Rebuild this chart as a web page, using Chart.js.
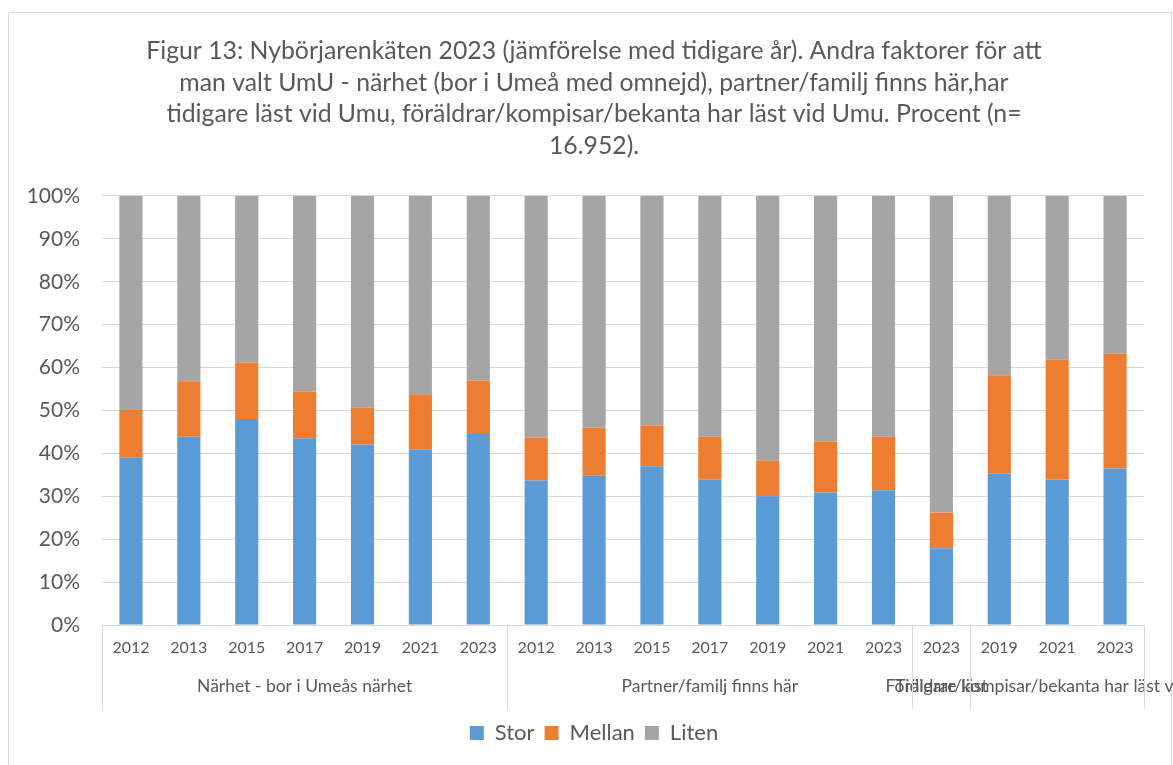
<!DOCTYPE html>
<html>
<head>
<meta charset="utf-8">
<script src="https://cdn.jsdelivr.net/npm/chart.js@4"></script>
<style>
  body { margin: 0; background: #fff; }
  canvas { display: block; }
</style>
</head>
<body>
<canvas id="chart" width="1173" height="765"></canvas>
<script>
const years = ["2012", "2013", "2015", "2017", "2019", "2021", "2023",
  "2012", "2013", "2015", "2017", "2019", "2021", "2023",
  "2023",
  "2019", "2021", "2023"];
const groupLabels = ["Närhet - bor i Umeås närhet", "Partner/familj finns här", "Tidigare läst", "Föräldrar/kompisar/bekanta har läst vid Umu"];
const groupSizes = [7, 7, 1, 3];

const stor = [39.0, 43.9, 48.0, 43.5, 42.1, 40.9, 44.5, 33.7, 34.8, 37.0, 33.9, 30.0, 30.9, 31.4, 17.9, 35.3, 33.9, 36.5];
const mellan = [11.1, 12.9, 13.2, 10.9, 8.6, 12.9, 12.5, 10.0, 11.2, 9.5, 10.0, 8.3, 11.9, 12.5, 8.3, 22.9, 28.0, 26.8];
const liten = [49.9, 43.2, 38.8, 45.6, 49.3, 46.2, 43.0, 56.3, 54.0, 53.5, 56.1, 61.7, 57.2, 56.1, 73.8, 41.8, 38.1, 36.7];

const yTicks = [0, 10, 20, 30, 40, 50, 60, 70, 80, 90, 100];

const textColor = "#595959";
const lineColor = "#d9d9d9";
const fontFamily = "Lato, 'Open Sans', sans-serif";

// outer frame + multi level category labels
const groupAxis = {
  id: "groupAxis",
  afterLayout(chart) {
    // title and legend sit a bit right of the canvas centre
    chart.titleBlock.left = 44;
    chart.legend.left = 44;
  },
  beforeDraw(chart) {
    const ctx = chart.ctx;
    ctx.save();
    ctx.fillStyle = "#fff";
    ctx.fillRect(0, 0, chart.width, chart.height);
    ctx.strokeStyle = lineColor;
    ctx.lineWidth = 1;
    ctx.strokeRect(8.5, 12.5, 1163, 800);
    ctx.restore();
  },
  afterDraw(chart) {
    const ctx = chart.ctx;
    const x = chart.scales.x;
    const top = chart.chartArea.bottom;
    const step = x.getPixelForValue(1) - x.getPixelForValue(0);
    ctx.save();
    ctx.strokeStyle = lineColor;
    ctx.lineWidth = 1;
    ctx.fillStyle = textColor;
    ctx.font = "17.5px " + fontFamily;
    ctx.textAlign = "center";
    ctx.textBaseline = "middle";
    let start = 0;
    const edges = [x.getPixelForValue(0) - step / 2];
    groupSizes.forEach((n, i) => {
      const left = x.getPixelForValue(start) - step / 2;
      const right = x.getPixelForValue(start + n - 1) + step / 2;
      edges.push(right);
      ctx.fillText(groupLabels[i], (left + right) / 2, top + 61);
      start += n;
    });
    edges.forEach(px => {
      const xx = Math.round(px) + 0.5;
      ctx.beginPath();
      ctx.moveTo(xx, top);
      ctx.lineTo(xx, top + 84);
      ctx.stroke();
    });
    ctx.restore();
  }
};

new Chart(document.getElementById("chart"), {
  type: "bar",
  data: {
    labels: years,
    datasets: [
      { label: "Stor", data: stor, backgroundColor: "#5b9bd5" },
      { label: "Mellan", data: mellan, backgroundColor: "#ed7d31" },
      { label: "Liten", data: liten, backgroundColor: "#a5a5a5" }
    ]
  },
  options: {
    responsive: false,
    animation: false,
    layout: { padding: { left: 0, right: 29, top: 0, bottom: 11 } },
    datasets: { bar: { categoryPercentage: 1, barPercentage: 0.4 } },
    scales: {
      x: {
        stacked: true,
        grid: { display: false, drawTicks: false },
        border: { color: lineColor },
        ticks: { color: textColor, font: { family: fontFamily, size: 16 }, padding: 13, maxRotation: 0, autoSkip: false },
        afterFit(scale) { scale.height = 87; }
      },
      y: {
        stacked: true,
        min: 0,
        max: 100,
        afterBuildTicks(scale) { scale.ticks = yTicks.map(v => ({ value: v })); },
        grid: { color: lineColor, drawTicks: false },
        border: { display: false },
        ticks: { color: textColor, font: { family: fontFamily, size: 21 }, padding: 22, callback: v => v + "%" },
        afterFit(scale) { scale.width = 102; }
      }
    },
    plugins: {
      title: {
        display: true,
        text: [
          "Figur 13: Nybörjarenkäten 2023 (jämförelse med tidigare år). Andra faktorer för att",
          "man valt UmU - närhet (bor i Umeå med omnejd), partner/familj finns här,har",
          "tidigare läst vid Umu, föräldrar/kompisar/bekanta har läst vid Umu. Procent (n=",
          "16.952)."
        ],
        color: textColor,
        font: { family: fontFamily, size: 24.8, weight: "normal", lineHeight: 1.28 },
        padding: { top: 35, bottom: 34 }
      },
      legend: {
        position: "bottom",
        labels: { color: textColor, font: { family: fontFamily, size: 22 }, boxWidth: 14, boxHeight: 14, padding: 10 }
      },
      tooltip: { enabled: false }
    }
  },
  plugins: [groupAxis]
});
</script>
</body>
</html>
